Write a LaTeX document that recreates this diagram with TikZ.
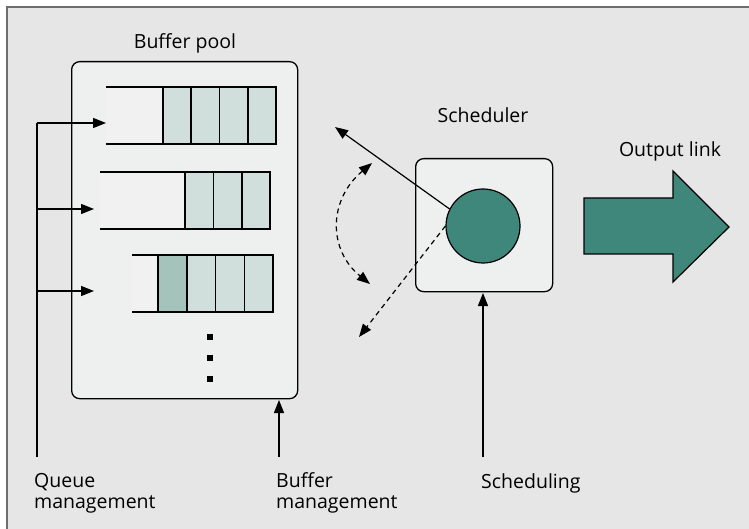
\documentclass[tikz,border=0pt]{standalone}
\usepackage{fontspec}
\setmainfont{Open Sans}
\usetikzlibrary{arrows.meta}
\definecolor{bg}{HTML}{E6E6E6}
\definecolor{boxfill}{HTML}{EDF0EF}
\definecolor{lightpart}{HTML}{F1F1F1}
\definecolor{cellfill}{HTML}{D0DEDC}
\definecolor{darkcell}{HTML}{A3C3BB}
\definecolor{teal}{HTML}{3F877A}
\definecolor{framec}{HTML}{6E6E6E}
\begin{document}
\begin{tikzpicture}[x=1pt,y=-1pt,
  lbl/.style={font=\fontsize{19.5}{21}\selectfont, inner sep=0pt},
  panel/.style={draw=black, line width=1.3pt, fill=boxfill, rounded corners=8pt},
  cell/.style={draw=black, line width=1.4pt, fill=cellfill},
  tip/.tip={Triangle[length=13pt,width=10pt]},
  arr/.style={line width=1.2pt, -tip},
  darr/.style={line width=1.2pt, dash pattern=on 5pt off 4pt, -tip},
]
\useasboundingbox (0,0) rectangle (749,529);
\fill[white] (0,0) rectangle (749,529);
\fill[bg] (7,7) rectangle (749,529);
\draw[framec, line width=2pt] (7,529) -- (7,7) -- (749,7);

% Buffer pool
\node[panel, minimum width=226pt, minimum height=337pt, anchor=north west] (pool) at (71,61) {};
\node[lbl, anchor=base] (pooltxt) at (185,49) {Buffer pool};

% Queue 1
\fill[lightpart] (106,87) rectangle (163,144);
\draw[line width=1.4pt] (106,87) -- (163,87) (106,144) -- (163,144);
\foreach \a/\b in {163/191,191/219.5,219.5/248,248/276}
  \draw[cell] (\a,87) rectangle (\b,144);
\coordinate (q1) at (106,123);
% Queue 2
\fill[lightpart] (100,172) rectangle (185,229);
\draw[line width=1.4pt] (100,172) -- (185,172) (100,229) -- (185,229);
\foreach \a/\b in {185/213.5,213.5/242,242/270}
  \draw[cell] (\a,172) rectangle (\b,229);
\coordinate (q2) at (94,209);
% Queue 3
\fill[lightpart] (132,255) rectangle (158,312);
\draw[line width=1.4pt] (132,255) -- (158,255) (132,312) -- (158,312);
\draw[cell, fill=darkcell] (158,255) rectangle (187,312);
\foreach \a/\b in {187/215.7,215.7/244.7,244.7/273}
  \draw[cell] (\a,255) rectangle (\b,312);
\coordinate (q3) at (94,291);

% dots
\foreach \y in {337,358,379}
  \fill (207,\y-3) rectangle (213,\y+3);

% Queue management
\coordinate (qbot) at (37,457);
\coordinate (qtop) at (37,123);
\draw[line width=1.2pt] (qbot) -- (qtop);
\draw[arr] (qtop) -- (q1);
\draw[arr] (37,209) -- (q2);
\draw[arr] (37,291) -- (q3);
\node[lbl, anchor=base west, align=left] (qm) at (34,508) {Queue\\management};

% Buffer management
\coordinate (bbot) at (279,457);
\draw[arr] (bbot) -- (279,400);
\node[lbl, anchor=base west, align=left] (bm) at (276,508) {Buffer\\management};

% Scheduler
\node[panel, minimum width=137pt, minimum height=133pt, anchor=north west] (sched) at (415,158) {};
\node[lbl, anchor=base] (schedtxt) at (483,123) {Scheduler};
\node[circle, draw=black, line width=1.2pt, fill=teal, minimum size=74pt, inner sep=0pt] (disk) at (483,226) {};
\coordinate (up) at (335,127);
\coordinate (down) at (359,337);
\draw[arr] (disk.153) -- (up);
\draw[darr] (disk.180) -- (down);
\draw[darr, tip-tip] (372,163) .. controls (328,200) and (328,250) .. (370,284);

% Scheduling
\coordinate (sbot) at (483,457);
\draw[arr] (sbot) -- (483,293);
\node[lbl, anchor=base west] (st) at (481,488) {Scheduling};

% Output link
\node[lbl, anchor=base] (outtxt) at (670,157) {Output link};
\draw[draw=black, line width=1.2pt, fill=teal] (584,198) -- (673,198) -- (673,171) -- (729,227) -- (673,282) -- (673,254) -- (584,254) -- cycle;
\end{tikzpicture}
\end{document}
